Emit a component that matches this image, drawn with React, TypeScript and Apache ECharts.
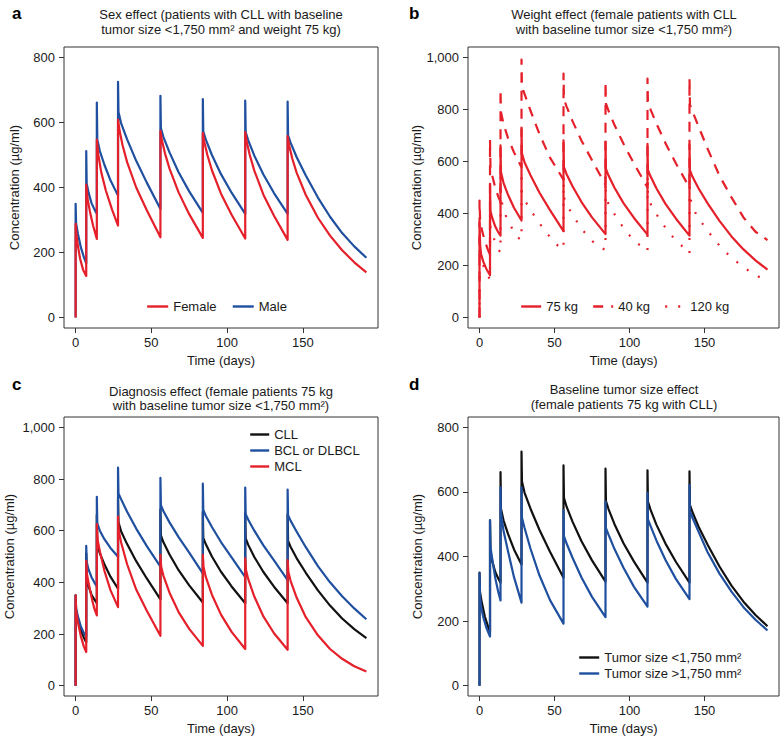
import React, { useEffect, useRef } from 'react';
import * as echarts from 'echarts';

const FONT = '"Liberation Sans", Arial, Helvetica, sans-serif';
const RED = '#E5202A';
const BLUE = '#1F4F9F';
const BLACK = '#111111';

const X_TICKS = [0, 50, 100, 150];
const Y_TICKS_800 = [0, 200, 400, 600, 800];
const Y_TICKS_1000 = [0, 200, 400, 600, 800, 1000];

// Panel a: sex effect
const A_MALE: number[][] = [
  [0, 0], [0, 350], [0.3, 290], [1.5, 258], [3.5, 215], [5.5, 185], [7, 167],
  [7, 512], [7.3, 412], [8.5, 385], [10.5, 352], [12.5, 332], [14, 319],
  [14, 661], [14.3, 548], [16, 512], [19, 470], [23, 422], [28, 375],
  [28, 725], [28.3, 632], [30, 598], [34, 548], [40, 482], [47, 415], [56, 334],
  [56, 682], [56.3, 582], [58, 555], [62, 508], [68, 447], [75, 388], [84, 322],
  [84, 672], [84.3, 572], [86, 547], [90, 500], [96, 441], [103, 384], [112, 319],
  [112, 667], [112.3, 570], [114, 545], [118, 498], [124, 440], [131, 383], [140, 319],
  [140, 664], [140.3, 560], [142, 537], [146, 493], [152, 437], [160, 369], [168, 310], [176, 260], [184, 219], [192, 184],
];
const A_FEMALE: number[][] = [
  [0, 0], [0, 288], [0.5, 258], [1.5, 220], [3, 180], [5, 146], [7, 128],
  [7, 409], [8, 362], [9.5, 325], [11.5, 283], [14, 242],
  [14, 547], [15, 500], [17, 445], [20, 390], [24, 333], [28, 283],
  [28, 609], [29, 575], [31, 530], [34, 478], [40, 400], [47, 330], [56, 247],
  [56, 574], [57, 545], [59, 505], [62, 458], [68, 385], [75, 318], [84, 245],
  [84, 568], [85, 540], [87, 500], [90, 453], [96, 381], [103, 316], [112, 243],
  [112, 570], [113, 541], [115, 500], [118, 452], [124, 378], [131, 313], [140, 239],
  [140, 558], [141, 530], [143, 490], [146, 445], [152, 377], [160, 307], [168, 252], [176, 207], [184, 170], [192, 139],
];

// Panel b: weight effect
const B_75: number[][] = [
  [0, 0], [0, 366], [0.4, 280], [1, 245], [2.5, 215], [4.5, 188], [7, 163],
  [7, 514], [7.3, 410], [8.5, 383], [10.5, 350], [12.5, 328], [14, 315],
  [14, 662], [14.3, 559], [16, 518], [19, 472], [23, 422], [28, 373],
  [28, 724], [28.3, 630], [30, 597], [34, 547], [40, 480], [47, 413], [56, 332],
  [56, 681], [56.3, 578], [58, 552], [62, 505], [68, 444], [75, 385], [84, 321],
  [84, 675], [84.3, 572], [86, 546], [90, 499], [96, 440], [103, 383], [112, 319],
  [112, 668], [112.3, 568], [114, 543], [118, 496], [124, 437], [131, 380], [140, 315],
  [140, 665], [140.3, 566], [142, 541], [146, 497], [152, 440], [160, 372], [168, 312], [176, 262], [184, 220], [192, 184],
];
const B_40: number[][] = [
  [0, 0], [0, 450], [0.4, 375], [1.5, 338], [3.5, 295], [5.5, 262], [7, 242],
  [7, 684], [7.3, 580], [8.5, 545], [10.5, 500], [12.5, 465], [14, 445],
  [14, 877], [14.3, 790], [16, 745], [19, 690], [23, 635], [28, 578],
  [28, 992], [28.3, 888], [30, 860], [34, 795], [40, 705], [47, 615], [56, 530],
  [56, 938], [56.3, 840], [58, 812], [62, 755], [68, 680], [75, 605], [84, 510],
  [84, 906], [84.3, 822], [86, 795], [90, 740], [96, 668], [103, 592], [112, 500],
  [112, 919], [112.3, 825], [114, 800], [118, 745], [124, 670], [131, 592], [140, 500],
  [140, 919], [140.3, 818], [142, 793], [146, 735], [152, 650], [160, 545], [168, 462], [176, 385], [184, 330], [192, 298],
];
const B_120: number[][] = [
  [0, 0], [0, 300], [0.4, 245], [1.5, 215], [3.5, 185], [5.5, 160], [7, 148],
  [7, 420], [7.3, 345], [8.5, 320], [10.5, 290], [12.5, 262], [14, 250],
  [14, 540], [14.3, 455], [17, 398], [21, 350], [25, 310], [28, 298],
  [28, 560], [28.3, 475], [30, 452], [35, 405], [40, 362], [46, 317], [51, 282], [56, 262],
  [56, 545], [56.3, 462], [58, 435], [63, 386], [68, 342], [74, 300], [79, 275], [84, 260],
  [84, 545], [84.3, 462], [86, 437], [91, 388], [96, 345], [102, 302], [107, 278], [112, 255],
  [112, 548], [112.3, 464], [114, 438], [119, 388], [124, 345], [130, 302], [135, 275], [140, 245],
  [140, 550], [140.3, 460], [144.5, 395], [150, 350], [155.5, 308], [161.7, 265], [168.3, 229], [175.6, 195], [183.3, 166], [192, 139],
];

// Panel c: diagnosis effect
const C_CLL: number[][] = A_MALE;
const C_BCL: number[][] = [
  [0, 0], [0, 350], [0.3, 300], [1.5, 268], [3.5, 228], [5.5, 203], [7, 190],
  [7, 541], [7.3, 480], [8.5, 450], [10.5, 420], [12.5, 398], [14, 384],
  [14, 731], [14.3, 628], [16, 600], [19, 567], [23, 533], [28, 499],
  [28, 844], [28.3, 744], [30, 722], [34, 673], [40, 608], [47, 540], [56, 461],
  [56, 804], [56.3, 699], [58, 675], [62, 632], [68, 575], [75, 515], [84, 435],
  [84, 782], [84.3, 680], [86, 657], [90, 614], [96, 556], [103, 497], [112, 420],
  [112, 767], [112.3, 664], [114, 642], [118, 600], [124, 543], [131, 485], [140, 409],
  [140, 759], [140.3, 660], [142, 638], [146, 596], [152, 536], [160, 463], [168, 400], [176, 346], [184, 299], [192, 257],
];
const C_MCL: number[][] = [
  [0, 0], [0, 350], [0.3, 290], [1.5, 245], [3.5, 190], [5.5, 150], [7, 130],
  [7, 483], [7.5, 430], [9, 385], [11, 330], [12.5, 295], [14, 272],
  [14, 625], [14.5, 565], [16, 520], [19, 445], [23, 370], [28, 304],
  [28, 654], [28.5, 600], [30, 555], [34, 470], [40, 372], [47, 290], [56, 193],
  [56, 506], [56.5, 460], [58, 425], [62, 360], [68, 285], [75, 220], [84, 154],
  [84, 506], [84.5, 458], [86, 420], [90, 352], [96, 275], [103, 208], [112, 142],
  [112, 493], [112.5, 448], [114, 412], [118, 345], [124, 268], [131, 203], [140, 139],
  [140, 486], [140.5, 440], [142, 405], [146, 340], [152, 265], [160, 195], [168, 142], [176, 104], [184, 75], [192, 55],
];

// Panel d: baseline tumor size effect
const D_SMALL: number[][] = A_MALE;
const D_LARGE: number[][] = [
  [0, 0], [0, 348], [0.4, 275], [1, 245], [2.5, 212], [4.5, 180], [7, 152],
  [7, 513], [7.3, 430], [8.5, 392], [10.5, 333], [12.5, 290], [14, 264],
  [14, 614], [14.3, 535], [16, 480], [19, 416], [23, 336], [28, 257],
  [28, 614], [28.3, 520], [30, 489], [34, 424], [40, 341], [47, 265], [56, 192],
  [56, 544], [56.3, 462], [58, 441], [62, 396], [68, 335], [75, 275], [84, 212],
  [84, 570], [84.3, 488], [86, 468], [90, 423], [96, 365], [103, 306], [112, 245],
  [112, 597], [112.3, 515], [114, 495], [118, 449], [124, 389], [131, 330], [140, 268],
  [140, 621], [140.3, 540], [142, 520], [146, 477], [152, 414], [160, 347], [168, 291], [176, 243], [184, 204], [192, 171],
];

const TITLES = [
  { x: 221, y: 14, text: 'Sex effect (patients with CLL with baseline' },
  { x: 221, y: 29, text: 'tumor size <1,750 mm² and weight 75 kg)' },
  { x: 624, y: 14, text: 'Weight effect (female patients with CLL' },
  { x: 624, y: 29, text: 'with baseline tumor size <1,750 mm²)' },
  { x: 221, y: 391, text: 'Diagnosis effect (female patients 75 kg' },
  { x: 221, y: 405, text: 'with baseline tumor size <1,750 mm²)' },
  { x: 624, y: 389, text: 'Baseline tumor size effect' },
  { x: 624, y: 404, text: '(female patients 75 kg with CLL)' },
];
const LETTERS = [
  { x: 12, y: 13, text: 'a' },
  { x: 409, y: 13, text: 'b' },
  { x: 12, y: 384, text: 'c' },
  { x: 409, y: 384, text: 'd' },
];

const GRIDS = [
  { left: 64, top: 47, width: 314, height: 281 },
  { left: 468, top: 47, width: 311, height: 281 },
  { left: 64, top: 417, width: 314, height: 279 },
  { left: 468, top: 417, width: 311, height: 279 },
];
const Y_RANGES = [
  [-32, 832, Y_TICKS_800],
  [-40, 1040, Y_TICKS_1000],
  [-40, 1040, Y_TICKS_1000],
  [-32, 832, Y_TICKS_800],
] as const;
const Y_NAME_GAPS = [43, 43, 48, 44];

const fmt = (v: number) => String(v).replace(/\B(?=(\d{3})+(?!\d))/g, ',');

export default function App() {
  const ref = useRef<HTMLDivElement>(null);
  useEffect(() => {
    if (!ref.current) return;
    const chart = echarts.init(ref.current, undefined, { renderer: 'svg' });
    const textStyle = { color: '#1a1a1a', fontSize: 13, fontFamily: FONT };
    const axisColor = '#333333';

    const xAxes = GRIDS.map((_, i) => ({
      type: 'value', gridIndex: i, min: -7.68, max: 199.68,
      axisLine: { show: false, onZero: false },
      splitLine: { show: false },
      axisTick: { show: true, customValues: X_TICKS, length: 5, lineStyle: { color: axisColor, width: 1 } },
      axisLabel: { customValues: X_TICKS, margin: 8, ...textStyle },
      name: 'Time (days)', nameLocation: 'middle', nameGap: 26,
      nameTextStyle: { ...textStyle },
    }));
    const yAxes = GRIDS.map((_, i) => ({
      type: 'value', gridIndex: i, min: Y_RANGES[i][0], max: Y_RANGES[i][1],
      axisLine: { show: false, onZero: false },
      splitLine: { show: false },
      axisTick: { show: true, customValues: Y_RANGES[i][2], length: 5, lineStyle: { color: axisColor, width: 1 } },
      axisLabel: { customValues: Y_RANGES[i][2], margin: 9, formatter: fmt, ...textStyle },
      name: 'Concentration (µg/ml)', nameLocation: 'middle', nameGap: Y_NAME_GAPS[i],
      nameTextStyle: { ...textStyle },
    }));

    const line = (name: string, data: number[][], idx: number, color: string, type: any = 'solid') => ({
      type: 'line', name, data, xAxisIndex: idx, yAxisIndex: idx,
      color, symbol: 'none', showSymbol: false, silent: true,
      lineStyle: { color, width: 2.2, type, join: 'round', cap: 'butt' },
    });

    const legendBase = {
      padding: 0, selectedMode: false, itemHeight: 14,
      itemStyle: { opacity: 0, borderWidth: 0 },
      lineStyle: { width: 2.4 },
      textStyle: { ...textStyle, padding: [0, 0, 0, 0] },
    };

    chart.setOption({
      animation: false,
      textStyle: { fontFamily: FONT },
      grid: GRIDS.map((g) => ({ ...g, show: true, borderColor: axisColor, borderWidth: 1, backgroundColor: 'transparent' })),
      xAxis: xAxes,
      yAxis: yAxes,
      legend: [
        { ...legendBase, data: ['Female', 'Male'], left: 146, top: 300, orient: 'horizontal', itemWidth: 21, itemGap: 15 },
        { ...legendBase, data: ['75 kg', '40 kg', '120 kg'], left: 520, top: 300, orient: 'horizontal', itemWidth: 20, itemGap: 14 },
        { ...legendBase, data: ['CLL', 'BCL or DLBCL', 'MCL'], left: 249, top: 428, orient: 'vertical', itemWidth: 19, itemGap: 3 },
        { ...legendBase, data: ['Tumor size <1,750 mm²', 'Tumor size >1,750 mm²'], left: 578, top: 651, orient: 'vertical', itemWidth: 20, itemGap: 3 },
      ],
      series: [
        line('Male', A_MALE, 0, BLUE),
        line('Female', A_FEMALE, 0, RED),
        line('120 kg', B_120, 1, RED, [2, 11]),
        line('40 kg', B_40, 1, RED, [10, 8]),
        line('75 kg', B_75, 1, RED),
        line('CLL', C_CLL, 2, BLACK),
        line('BCL or DLBCL', C_BCL, 2, BLUE),
        line('MCL', C_MCL, 2, RED),
        line('Tumor size <1,750 mm²', D_SMALL, 3, BLACK),
        line('Tumor size >1,750 mm²', D_LARGE, 3, BLUE),
      ],
      graphic: [
        ...TITLES.map((t) => ({
          type: 'text', x: t.x, y: t.y, silent: true,
          style: { text: t.text, textAlign: 'center', textVerticalAlign: 'middle', fill: '#1a1a1a', font: `13px ${FONT}` },
        })),
        ...LETTERS.map((t) => ({
          type: 'text', x: t.x, y: t.y, silent: true,
          style: { text: t.text, textAlign: 'left', textVerticalAlign: 'middle', fill: '#000', font: `bold 17px ${FONT}` },
        })),
      ],
    });
    return () => chart.dispose();
  }, []);
  return <div ref={ref} style={{ position: 'absolute', left: 0, top: 0, width: 784, height: 742, background: '#fff' }} />;
}
